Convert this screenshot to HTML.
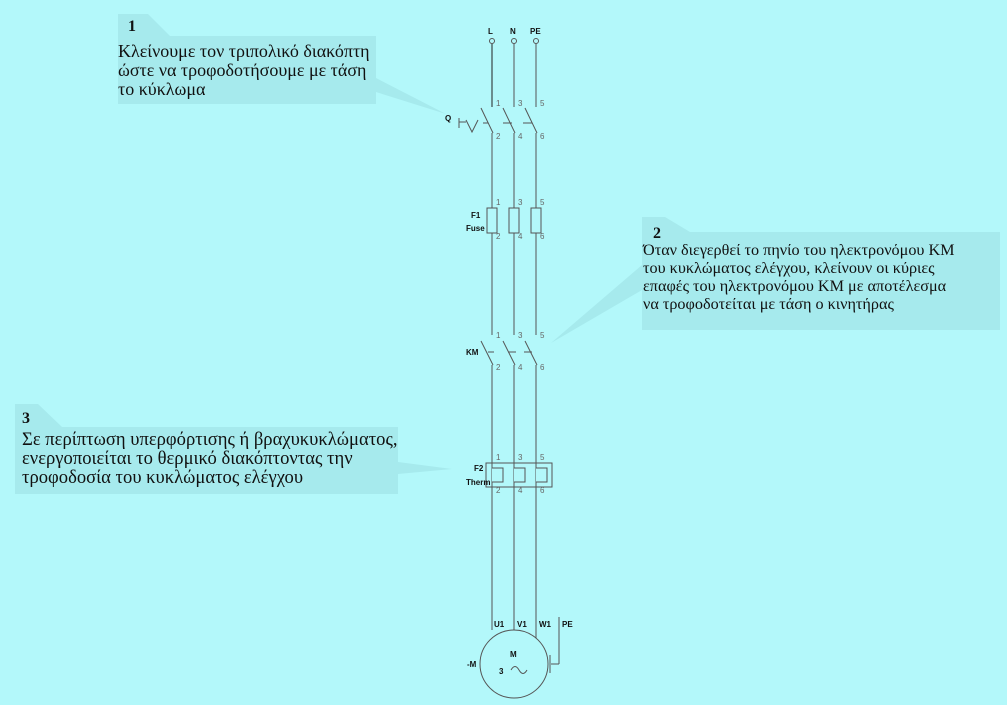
<!DOCTYPE html>
<html><head><meta charset="utf-8"><style>
body{margin:0;background:#b3f8fa;width:1007px;height:705px;overflow:hidden}
svg{display:block}
.t{font-family:"Liberation Serif","DejaVu Serif",serif;font-size:18px;fill:#111}
.t2{font-family:"Liberation Serif","DejaVu Serif",serif;font-size:16.2px;fill:#111}
.t3{font-family:"Liberation Serif","DejaVu Serif",serif;font-size:18.6px;fill:#111}
.b{font-family:"Liberation Serif",serif;font-size:16px;font-weight:bold;fill:#111}
.n{font-family:"Liberation Sans",sans-serif;font-size:8px;fill:#666}
.l{font-family:"Liberation Sans",sans-serif;font-size:8px;font-weight:bold;fill:#111}
</style></head><body>
<svg width="1007" height="705" viewBox="0 0 1007 705">
<rect width="1007" height="705" fill="#b3f8fa"/>
<g fill="#a6eaed">
<polygon points="118,14 148,14 170,36 118,36"/>
<rect x="118" y="36" width="258" height="68"/>
<polygon points="376,78 376,92 446,114"/>
<polygon points="642,217 665,217 690,232 642,232"/>
<rect x="642" y="232" width="358" height="98"/>
<polygon points="642,265 642,290 551,343"/>
<polygon points="15,404 38,404 62,427 15,427"/>
<rect x="15" y="427" width="383" height="67"/>
<polygon points="398,462 398,474 452,469"/>
</g>
<text class="b" x="128" y="31">1</text>
<text class="t" x="118" y="57">Κλείνουμε τον τριπολικό διακόπτη</text>
<text class="t" x="118" y="76">ώστε να τροφοδοτήσουμε με τάση</text>
<text class="t" x="118" y="95">το κύκλωμα</text>
<text class="b" x="653" y="238">2</text>
<text class="t2" x="643" y="255">Όταν διεγερθεί το πηνίο του ηλεκτρονόμου ΚΜ</text>
<text class="t2" x="643" y="273">του κυκλώματος ελέγχου, κλείνουν οι κύριες</text>
<text class="t2" x="643" y="291">επαφές του ηλεκτρονόμου ΚΜ με αποτέλεσμα</text>
<text class="t2" x="643" y="309">να τροφοδοτείται με τάση ο κινητήρας</text>
<text class="b" x="22" y="423">3</text>
<text class="t3" x="22" y="445">Σε περίπτωση υπερφόρτισης ή βραχυκυκλώματος,</text>
<text class="t3" x="22" y="464">ενεργοποιείται το θερμικό διακόπτοντας την</text>
<text class="t3" x="22" y="483">τροφοδοσία του κυκλώματος ελέγχου</text>
<g stroke="#555" stroke-width="1" fill="none">
<circle cx="492" cy="41" r="2.5"/><circle cx="514" cy="41" r="2.5"/><circle cx="536" cy="41" r="2.5"/>
<line x1="492" y1="44" x2="492" y2="107" stroke="#222"/>
<line x1="514" y1="44" x2="514" y2="107"/>
<line x1="536" y1="44" x2="536" y2="107"/>
<line x1="481" y1="108" x2="493" y2="133"/><line x1="503" y1="108" x2="515" y2="133"/><line x1="525" y1="108" x2="537" y2="133"/>
<line x1="459" y1="118" x2="459" y2="128"/><line x1="459" y1="122" x2="466" y2="122"/>
<polyline points="466,120 472,132 478,120"/>
<line x1="483" y1="123" x2="490" y2="123" stroke-dasharray="5,3"/><line x1="503" y1="123" x2="512" y2="123"/><line x1="523" y1="123" x2="532" y2="123"/>
<line x1="492" y1="133" x2="492" y2="335"/><line x1="514" y1="133" x2="514" y2="335"/><line x1="536" y1="133" x2="536" y2="335"/>
<rect x="487" y="208" width="10" height="25" fill="#b3f8fa"/><rect x="509" y="208" width="10" height="25" fill="#b3f8fa"/><rect x="531" y="208" width="10" height="25" fill="#b3f8fa"/>
<line x1="481" y1="341" x2="493" y2="365"/><line x1="503" y1="341" x2="515" y2="365"/><line x1="525" y1="341" x2="537" y2="365"/>
<line x1="488" y1="352" x2="494" y2="352"/><line x1="508" y1="352" x2="516" y2="352"/><line x1="524" y1="352" x2="532" y2="352"/>
<line x1="492" y1="365" x2="492" y2="630"/><line x1="514" y1="365" x2="514" y2="630"/><line x1="536" y1="365" x2="536" y2="638"/>
<rect x="486" y="463" width="66" height="24" fill="none"/>
<polyline points="492,468 503,468 503,482 492,482" fill="#b3f8fa"/>
<polyline points="514,468 525,468 525,482 514,482" fill="#b3f8fa"/>
<polyline points="536,468 547,468 547,482 536,482" fill="#b3f8fa"/>
<line x1="492" y1="463" x2="492" y2="468"/><line x1="492" y1="482" x2="492" y2="487"/>
<circle cx="514" cy="664" r="34" fill="#b3f8fa"/>
<line x1="559" y1="617" x2="559" y2="664"/><line x1="559" y1="664" x2="551" y2="664"/><line x1="550" y1="655" x2="550" y2="673"/>
<path d="M511,670 q4,-7 8,0 q4,7 8,0"/>
</g>
<g class="l">
<text x="488" y="34">L</text><text x="510" y="34">N</text><text x="530" y="34">PE</text>
<text x="445" y="121">Q</text>
<text x="471" y="218">F1</text><text x="466" y="231">Fuse</text>
<text x="466" y="355">KM</text>
<text x="474" y="471">F2</text><text x="466" y="485">Therm</text>
<text x="494" y="627">U1</text><text x="517" y="627">V1</text><text x="539" y="627">W1</text><text x="562" y="627">PE</text>
<text x="467" y="667">-M</text><text x="510" y="657">M</text><text x="499" y="674">3</text>
</g>
<g class="n">
<text x="496" y="106">1</text><text x="518" y="106">3</text><text x="540" y="106">5</text>
<text x="496" y="139">2</text><text x="518" y="139">4</text><text x="540" y="139">6</text>
<text x="496" y="205">1</text><text x="518" y="205">3</text><text x="540" y="205">5</text>
<text x="496" y="239">2</text><text x="518" y="239">4</text><text x="540" y="239">6</text>
<text x="496" y="338">1</text><text x="518" y="338">3</text><text x="540" y="338">5</text>
<text x="496" y="370">2</text><text x="518" y="370">4</text><text x="540" y="370">6</text>
<text x="496" y="460">1</text><text x="518" y="460">3</text><text x="540" y="460">5</text>
<text x="496" y="493">2</text><text x="518" y="493">4</text><text x="540" y="493">6</text>
</g>
</svg>
</body></html>
